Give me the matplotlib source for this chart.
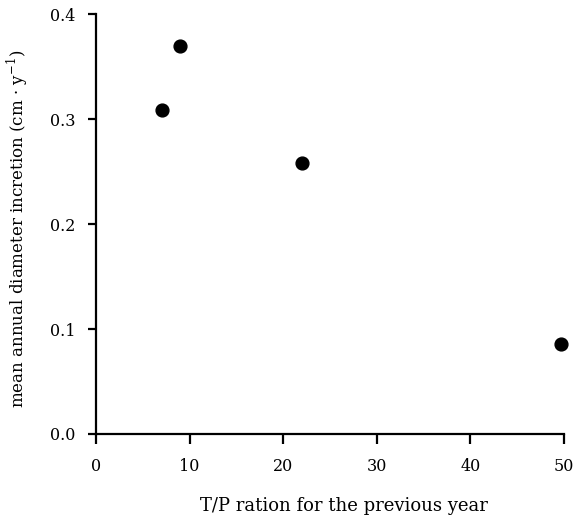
import matplotlib
matplotlib.use('Agg')
import matplotlib.pyplot as plt

# data
tp_ratio = [7.1, 9.0, 22.0, 49.7]
incretion = [0.309, 0.370, 0.258, 0.086]
x_ticks = [0, 10, 20, 30, 40, 50]
y_ticks = [0.0, 0.1, 0.2, 0.3, 0.4]
y_tick_labels = ['0.0', '0.1', '0.2', '0.3', '0.4']

plt.rcParams['font.family'] = ['DejaVu Serif']

fig = plt.figure(figsize=(5.81, 5.21), dpi=100)
ax = fig.add_axes([96/581, 1-434/521, (564-96)/581, (434-14)/521])

ax.scatter(tp_ratio, incretion, s=85, color='black', zorder=3, clip_on=False)

ax.set_xlim(0, 50)
ax.set_ylim(0, 0.4)
ax.set_xticks(x_ticks)
ax.set_yticks(y_ticks)
ax.set_yticklabels(y_tick_labels)

for side in ['top', 'right']:
    ax.spines[side].set_visible(False)
for side in ['left', 'bottom']:
    ax.spines[side].set_linewidth(1.6)

ax.tick_params(axis='x', direction='out', length=7.5, width=1.6, pad=10, labelsize=11.5)
ax.tick_params(axis='y', direction='out', length=6, width=1.6, pad=9, labelsize=11.5)

ax.set_xlabel('T/P ration for the previous year', fontsize=13)
ax.xaxis.label.set_va('center')
ax.xaxis.set_label_coords((344-96)/468, -(506-434)/420)
ax.set_ylabel('mean annual diameter incretion (cm · y$^{\\mathregular{-1}}$)', fontsize=12)
ax.yaxis.label.set_va('center')
ax.yaxis.set_label_coords(-(96-17)/468, (434-229)/420)

fig.savefig('out.png', dpi=100)
